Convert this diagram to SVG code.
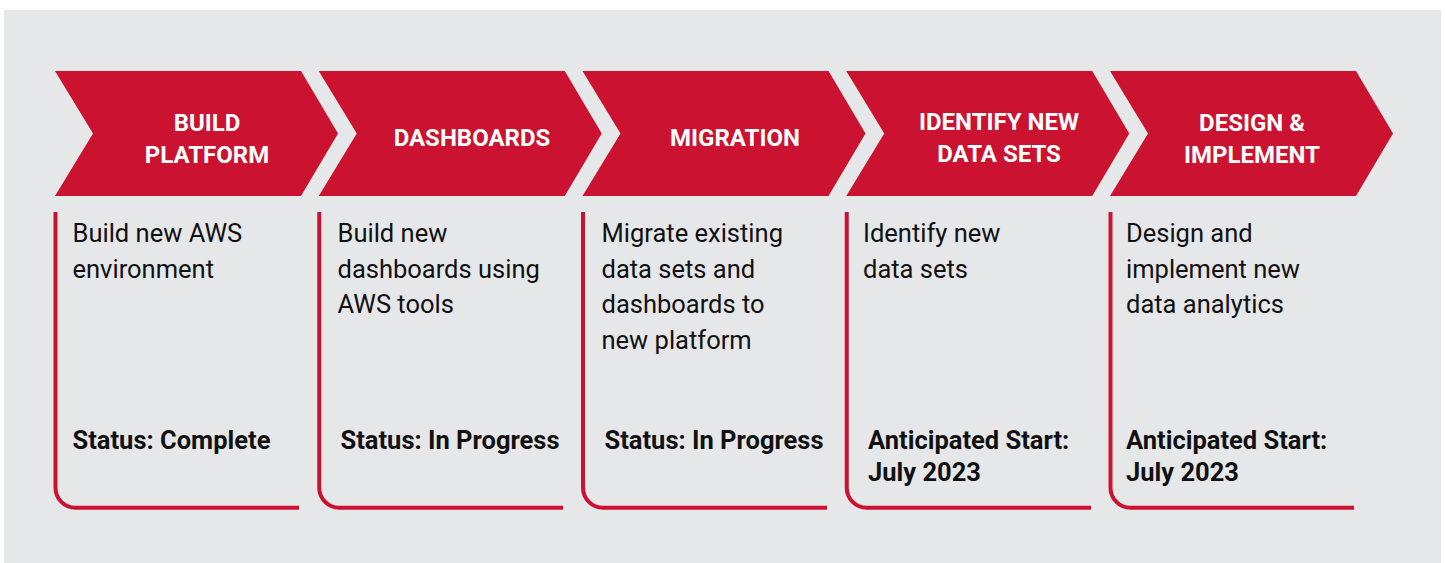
<svg xmlns="http://www.w3.org/2000/svg" width="1445" height="563" viewBox="0 0 1445 563">
<defs>
<style>
.chev{fill:#CB1230;}
.br{fill:none;stroke:#CB1230;stroke-width:4;}
.title{font-family:Roboto,"Liberation Sans",sans-serif;font-weight:bold;font-size:24px;fill:#FFFFFF;text-anchor:middle;}
.body{font-family:Roboto,"Liberation Sans",sans-serif;font-size:25.5px;fill:#111111;}
.stat{font-family:Roboto,"Liberation Sans",sans-serif;font-weight:bold;font-size:25.5px;fill:#111111;}
</style>
</defs>
<rect x="4" y="10" width="1437" height="553" fill="#E6E7E8"/>
<g id="connectors"></g>

<g id="step1">
<path class="chev" d="M55,71 H301 L338,133.5 L301,196 H55 L93,133.5 Z"/>
<text class="title" x="207" y="131">BUILD</text>
<text class="title" x="207" y="163">PLATFORM</text>
<path class="br" d="M55.5,212 V487.7 A20,20 0 0 0 75.5,507.7 H299"/>
<text class="body" x="72.5" y="242">Build new AWS</text>
<text class="body" x="72.5" y="277.5">environment</text>
<text class="stat" x="72.5" y="449">Status: Complete</text>
</g>

<g id="step2">
<path class="chev" d="M318.75,71 H564.75 L601.75,133.5 L564.75,196 H318.75 L356.75,133.5 Z"/>
<text class="title" x="472" y="146">DASHBOARDS</text>
<path class="br" d="M319.25,212 V487.7 A20,20 0 0 0 339.25,507.7 H563"/>
<text class="body" x="337.5" y="242">Build new</text>
<text class="body" x="337.5" y="277.5">dashboards using</text>
<text class="body" x="337.5" y="313">AWS tools</text>
<text class="stat" x="340.5" y="449">Status: In Progress</text>
</g>

<g id="step3">
<path class="chev" d="M582.5,71 H828.5 L865.5,133.5 L828.5,196 H582.5 L620.5,133.5 Z"/>
<text class="title" x="735" y="146">MIGRATION</text>
<path class="br" d="M583,212 V487.7 A20,20 0 0 0 603,507.7 H827"/>
<text class="body" x="601.5" y="242">Migrate existing</text>
<text class="body" x="601.5" y="277.5">data sets and</text>
<text class="body" x="601.5" y="313">dashboards to</text>
<text class="body" x="601.5" y="348.5">new platform</text>
<text class="stat" x="604.5" y="449">Status: In Progress</text>
</g>

<g id="step4">
<path class="chev" d="M846.25,71 H1092.25 L1129.25,133.5 L1092.25,196 H846.25 L884.25,133.5 Z"/>
<text class="title" x="999" y="130">IDENTIFY NEW</text>
<text class="title" x="999" y="162">DATA SETS</text>
<path class="br" d="M846.75,212 V487.7 A20,20 0 0 0 866.75,507.7 H1091"/>
<text class="body" x="863" y="242">Identify new</text>
<text class="body" x="863" y="277.5">data sets</text>
<text class="stat" x="868" y="448.5">Anticipated Start:</text>
<text class="stat" x="868" y="480.5">July 2023</text>
</g>

<g id="step5">
<path class="chev" d="M1110,71 H1356 L1393,133.5 L1356,196 H1110 L1148,133.5 Z"/>
<text class="title" x="1252" y="131">DESIGN &amp;</text>
<text class="title" x="1252" y="163">IMPLEMENT</text>
<path class="br" d="M1110.5,212 V487.7 A20,20 0 0 0 1130.5,507.7 H1354"/>
<text class="body" x="1126" y="242">Design and</text>
<text class="body" x="1126" y="277.5">implement new</text>
<text class="body" x="1126" y="313">data analytics</text>
<text class="stat" x="1126" y="448.5">Anticipated Start:</text>
<text class="stat" x="1126" y="480.5">July 2023</text>
</g>
</svg>
